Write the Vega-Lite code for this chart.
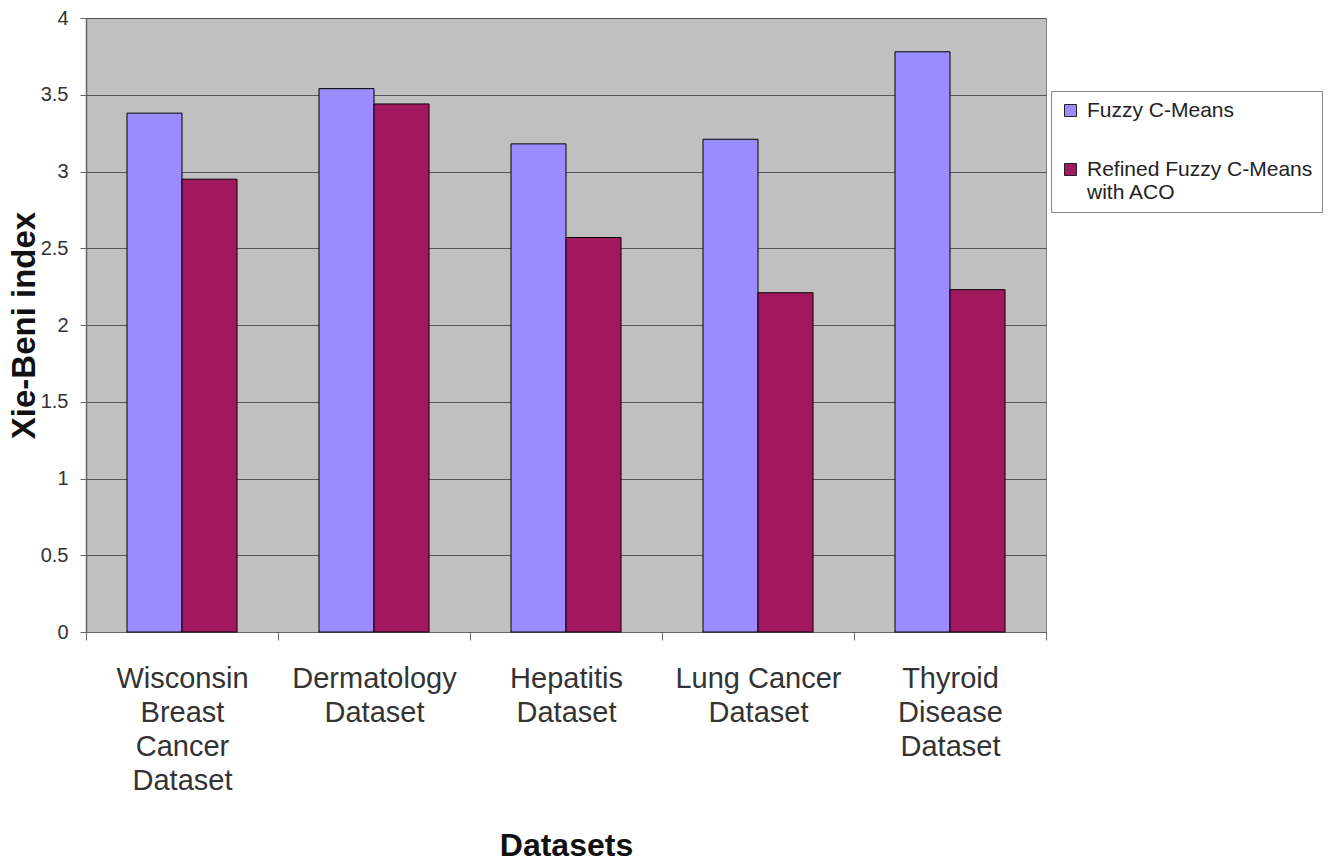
{
  "$schema": "https://vega.github.io/schema/vega-lite/v6.json",
  "width": 960,
  "height": 614,
  "autosize": {"type": "none"},
  "padding": {"left": 86, "top": 18, "right": 288, "bottom": 231},
  "background": "white",
  "config": {
    "font": "Liberation Sans",
    "view": {"fill": "#c0c0c0", "stroke": "#808080", "strokeWidth": 1}
  },
  "data": {
    "values": [
      {"dataset": "Wisconsin Breast Cancer Dataset", "method": "Fuzzy C-Means", "value": 3.38},
      {"dataset": "Wisconsin Breast Cancer Dataset", "method": "Refined Fuzzy C-Means with ACO", "value": 2.95},
      {"dataset": "Dermatology Dataset", "method": "Fuzzy C-Means", "value": 3.54},
      {"dataset": "Dermatology Dataset", "method": "Refined Fuzzy C-Means with ACO", "value": 3.44},
      {"dataset": "Hepatitis Dataset", "method": "Fuzzy C-Means", "value": 3.18},
      {"dataset": "Hepatitis Dataset", "method": "Refined Fuzzy C-Means with ACO", "value": 2.57},
      {"dataset": "Lung Cancer Dataset", "method": "Fuzzy C-Means", "value": 3.21},
      {"dataset": "Lung Cancer Dataset", "method": "Refined Fuzzy C-Means with ACO", "value": 2.21},
      {"dataset": "Thyroid Disease Dataset", "method": "Fuzzy C-Means", "value": 3.78},
      {"dataset": "Thyroid Disease Dataset", "method": "Refined Fuzzy C-Means with ACO", "value": 2.23}
    ]
  },
  "mark": {"type": "bar", "stroke": "#000000", "strokeWidth": 1},
  "encoding": {
    "x": {
      "field": "dataset",
      "type": "nominal",
      "sort": null,
      "scale": {"paddingInner": 0, "paddingOuter": 0},
      "axis": {
        "title": "Datasets",
        "titleFontSize": 32,
        "titleFontWeight": "bold",
        "titleColor": "#111111",
        "titleY": 213,
        "titleBaseline": "middle",
        "labelAngle": 0,
        "labelFontSize": 29,
        "labelColor": "#333333",
        "labelPadding": 24,
        "labelLineHeight": 34,
        "labelBaseline": "top",
        "labelExpr": "datum.label == 'Lung Cancer Dataset' ? ['Lung Cancer', 'Dataset'] : split(datum.label, ' ')",
        "labelLimit": 300,
        "tickBand": "extent",
        "tickSize": 8,
        "tickColor": "#666666",
        "domainColor": "#666666",
        "grid": false
      }
    },
    "xOffset": {
      "field": "method",
      "type": "nominal",
      "sort": null,
      "scale": {"paddingInner": 0, "paddingOuter": 0.745}
    },
    "y": {
      "field": "value",
      "type": "quantitative",
      "scale": {"domain": [0, 4], "nice": false},
      "axis": {
        "title": "Xie-Beni index",
        "titleFontSize": 33,
        "titleFontWeight": "bold",
        "titleColor": "#111111",
        "titleX": -62,
        "titleY": 307,
        "titleAngle": -90,
        "titleAlign": "center",
        "titleBaseline": "middle",
        "values": [0, 0.5, 1, 1.5, 2, 2.5, 3, 3.5, 4],
        "format": "~g",
        "labelFontSize": 20,
        "labelColor": "#333333",
        "labelPadding": 12,
        "tickSize": 6,
        "tickColor": "#666666",
        "domainColor": "#666666",
        "domainWidth": 1.5,
        "grid": true,
        "gridColor": "#555555",
        "gridWidth": 1.2,
        "gridOpacity": 1
      }
    },
    "color": {
      "field": "method",
      "type": "nominal",
      "sort": null,
      "scale": {"domain": ["Fuzzy C-Means", "Refined Fuzzy C-Means with ACO"], "range": ["#9b8cff", "#a3195f"]},
      "legend": {
        "title": null,
        "orient": "none",
        "legendX": 965,
        "legendY": 73,
        "fillColor": "#ffffff",
        "strokeColor": "#888888",
        "padding": 9,
        "symbolType": "square",
        "symbolSize": 144,
        "symbolStrokeColor": "#222222",
        "symbolStrokeWidth": 1,
        "symbolOpacity": 1,
        "labelFontSize": 21,
        "labelColor": "#222222",
        "labelLimit": 400,
        "labelOffset": 6,
        "labelLineHeight": 24,
        "labelExpr": "datum.label == 'Refined Fuzzy C-Means with ACO' ? ['Refined Fuzzy C-Means', 'with ACO'] : datum.label",
        "rowPadding": 37
      }
    }
  }
}
